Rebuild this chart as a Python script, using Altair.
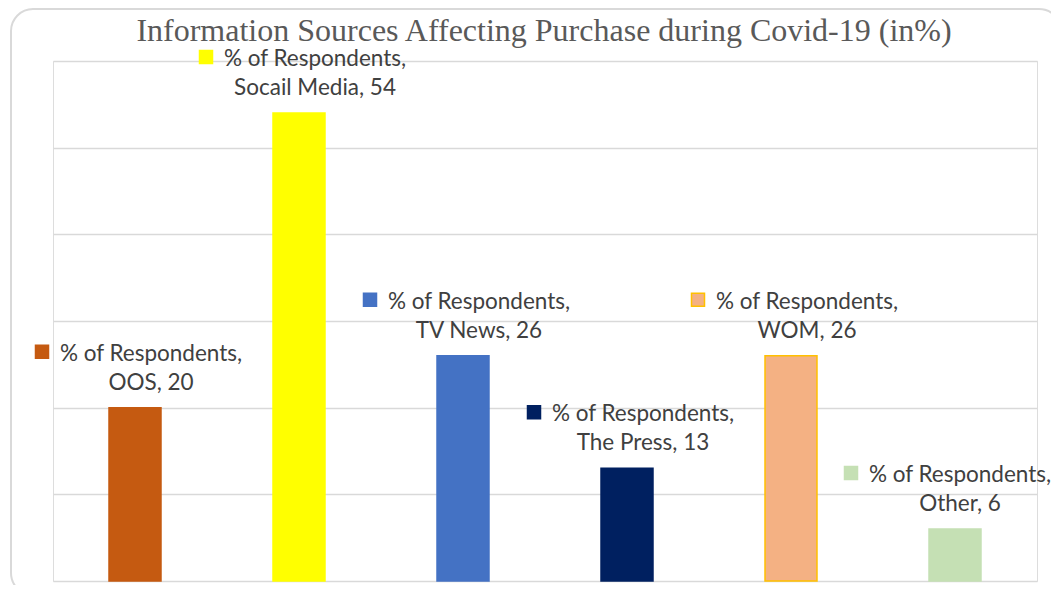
import altair as alt
import pandas as pd

categories = ["OOS", "Socail Media", "TV News", "The Press", "WOM", "Other"]
values = [20, 54, 26, 13, 26, 6]
fill_colors = ["#C55A11", "#FFFF00", "#4472C4", "#002060", "#F4B183", "#C5E0B4"]
stroke_colors = ["#C55A11", "#FFFF00", "#4472C4", "#002060", "#FFC000", "#C5E0B4"]
series_name = "% of Respondents"
title_text = "Information Sources Affecting Purchase during Covid-19 (in%)"
y_ticks = [0, 10, 20, 30, 40, 50, 60]
edge_category = "Other"

df = pd.DataFrame({"cat": categories, "v": values})
df["line1"] = series_name + ","
df["line2"] = df["cat"] + ", " + df["v"].astype(str)

x_enc = alt.X("cat:N", sort=categories, axis=None,
              scale=alt.Scale(paddingInner=0.683, paddingOuter=0.3415))
y_enc = alt.Y("v:Q", scale=alt.Scale(domain=[0, 60], nice=False),
              axis=alt.Axis(values=y_ticks, grid=True, labels=False, ticks=False,
                            domain=False, title=None, gridColor="#d9d9d9",
                            gridWidth=1.5))
fill_enc = alt.Color("cat:N", scale=alt.Scale(domain=categories, range=fill_colors), legend=None)
stroke_enc = alt.Stroke("cat:N", scale=alt.Scale(domain=categories, range=stroke_colors), legend=None)

base = alt.Chart(df)

bars = base.mark_bar(strokeWidth=1.5).encode(x=x_enc, y=y_enc, color=fill_enc, stroke=stroke_enc)

txt_style = dict(font="Lato", fontSize=22.5, color="#404040", align="center", baseline="alphabetic")


def labels(data_filter, shift):
    b = base.transform_filter(data_filter)
    m = b.mark_square(size=169, opacity=1, strokeWidth=1.5, xOffset=-93 + shift, yOffset=-56).encode(
        x=x_enc, y=y_enc, color=fill_enc, stroke=stroke_enc)
    l1 = b.mark_text(dx=16 + shift, dy=-47, **txt_style).encode(x=x_enc, y=y_enc, text="line1:N")
    l2 = b.mark_text(dx=16 + shift, dy=-18, **txt_style).encode(x=x_enc, y=y_enc, text="line2:N")
    return [m, l1, l2]


inner = labels(alt.datum.cat != edge_category, 0)
edge = labels(alt.datum.cat == edge_category, -11)

title = alt.Chart(alt.Data(values=[{"t": title_text}])).mark_text(
    font="Liberation Serif", fontSize=32, color="#595959", align="center",
    baseline="alphabetic").encode(x=alt.value(491), y=alt.value(-20), text="t:N")

border = alt.Chart(alt.Data(values=[{}])).mark_rect(
    fillOpacity=0, stroke="#d9d9d9", strokeWidth=2, cornerRadius=22).encode(
    x=alt.value(-42), x2=alt.value(1008), y=alt.value(-52), y2=alt.value(534))

chart = alt.layer(border, bars, *inner, *edge, title).properties(
    width=984, height=520,
    autosize=alt.AutoSizeParams(type="none"),
    padding={"left": 45, "top": 53, "right": 14, "bottom": 4},
).configure_view(stroke=None).configure(background="white")

chart.save("out.html", embed_options={"renderer": "svg", "actions": False})
